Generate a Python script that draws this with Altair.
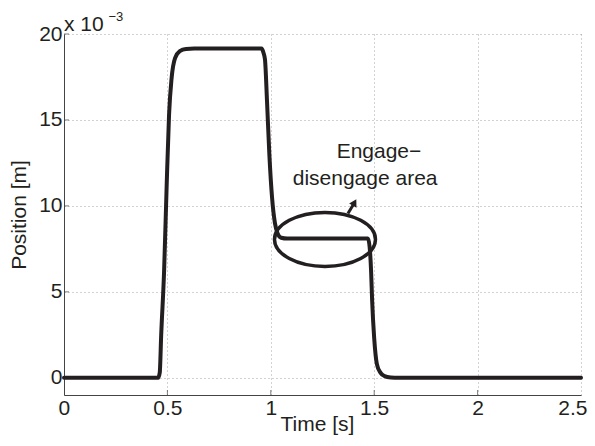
import altair as alt
import pandas as pd

# ---- data (position in units of 1e-3 m) ----
time_s = [0, 0.455, 0.463, 0.47, 0.484, 0.496, 0.508, 0.52, 0.537, 0.56, 0.59, 0.63,
          0.955, 0.965, 0.972, 0.982, 0.993, 1.006, 1.02, 1.033, 1.05, 1.08,
          1.47, 1.478, 1.485, 1.49, 1.5, 1.513, 1.53, 1.55, 1.58, 1.62, 2.5]
position = [0, 0, 0.3, 2.5, 6.2, 11, 15.3, 17.4, 18.6, 19.0, 19.13, 19.15,
            19.15, 18.9, 18.5, 16.0, 13.0, 10.5, 9.0, 8.4, 8.15, 8.1,
            8.1, 7.6, 6.2, 4.5, 2.3, 0.8, 0.3, 0.1, 0.02, 0, 0]

x_ticks = [0, 0.5, 1, 1.5, 2, 2.5]
y_ticks = [0, 5, 10, 15, 20]

ellipse_center = {"t": [1.262], "p": [8.05]}
arrow_shaft = {"t": [1.373, 1.398], "p": [9.56, 10.05]}
arrow_head = {"t": [1.405], "p": [10.2]}
notes = {"t": [1.523, 1.456], "p": [12.77, 11.19], "label": ["Engage\u2212", "disengage area"]}
exp_base = {"t": [0.0], "p": [20.18], "label": ["x 10"]}
exp_sup = {"t": [0.215], "p": [20.74], "label": ["\u22123"]}

FONT = "Liberation Sans"
INK = "#231f20"

xs = alt.Scale(domain=[0, 2.5], nice=False, zero=False)
ys = alt.Scale(domain=[-1, 20], nice=False, zero=False)

x_axis = alt.Axis(
    values=x_ticks, format=".1~f", title="Time [s]", titleFontSize=21,
    titleFont=FONT, titleFontWeight="normal", titleColor=INK,
    titleBaseline="alphabetic", titleY=35, titleX=253,
    labelFontSize=21, labelFont=FONT, labelColor=INK, labelPadding=2,
    labelFlush=True, labelFlushOffset=6, labelOverlap=False,
    ticks=False, domainColor="#444", domainWidth=1,
    grid=True, gridDash=[1, 3], gridColor="#a5a5a5", gridWidth=1)
y_axis = alt.Axis(
    values=y_ticks, title="Position [m]", titleFontSize=21, titleFont=FONT,
    titleFontWeight="normal", titleColor=INK, titleBaseline="alphabetic",
    titleX=-39, titleAngle=270,
    labelFontSize=21, labelFont=FONT, labelColor=INK, labelPadding=2,
    labelFlush=False, labelOverlap=False,
    ticks=False, domainColor="#444", domainWidth=1,
    grid=True, gridDash=[1, 3], gridColor="#a5a5a5", gridWidth=1)


def X(field="t"):
    return alt.X(f"{field}:Q", scale=xs, axis=x_axis)


def Y(field="p"):
    return alt.Y(f"{field}:Q", scale=ys, axis=y_axis)


df = pd.DataFrame({"t": time_s, "p": position})

line = alt.Chart(df).mark_line(color=INK, strokeWidth=4, interpolate="monotone",
                               strokeJoin="round", strokeCap="round").encode(x=X(), y=Y())

xtick_marks = alt.Chart(pd.DataFrame({"t": x_ticks[1:-1]})).mark_tick(
    color="#444", thickness=1, size=5).encode(x=X(), y=alt.value(358.5))
ytick_marks = alt.Chart(pd.DataFrame({"p": y_ticks[1:]})).mark_tick(
    color="#444", thickness=1, size=5).encode(y=Y(), x=alt.value(2.5))

ellipse = alt.Chart(pd.DataFrame(ellipse_center)).mark_point(
    shape="M-1,0A1,0.535,0,1,1,1,0A1,0.535,0,1,1,-1,0Z",
    size=10201, filled=False, stroke=INK, strokeWidth=3.5, opacity=1).encode(x=X(), y=Y())

shaft = alt.Chart(pd.DataFrame(arrow_shaft)).mark_line(color=INK, strokeWidth=3).encode(x=X(), y=Y())

head = alt.Chart(pd.DataFrame(arrow_head)).mark_point(
    shape="triangle-up", size=70, filled=True, color=INK, angle=29, opacity=1).encode(x=X(), y=Y())

note_text = alt.Chart(pd.DataFrame(notes)).mark_text(
    font=FONT, fontSize=21, color=INK, align="center", baseline="alphabetic").encode(
    x=X(), y=Y(), text="label:N")

exp1 = alt.Chart(pd.DataFrame(exp_base)).mark_text(
    font=FONT, fontSize=21, color=INK, align="left", baseline="alphabetic").encode(
    x=X(), y=Y(), text="label:N")
exp2 = alt.Chart(pd.DataFrame(exp_sup)).mark_text(
    font=FONT, fontSize=13, color=INK, align="left", baseline="alphabetic").encode(
    x=X(), y=Y(), text="label:N")

chart = alt.layer(line, xtick_marks, ytick_marks, ellipse, shaft, head,
                  note_text, exp1, exp2).properties(
    width=517, height=361,
    autosize=alt.AutoSizeParams(type="none"),
    padding={"left": 56, "top": 26, "right": 6, "bottom": 40},
    background="white",
).configure_view(strokeOpacity=0)

chart.save("out.html", embed_options={"renderer": "svg", "actions": False})
